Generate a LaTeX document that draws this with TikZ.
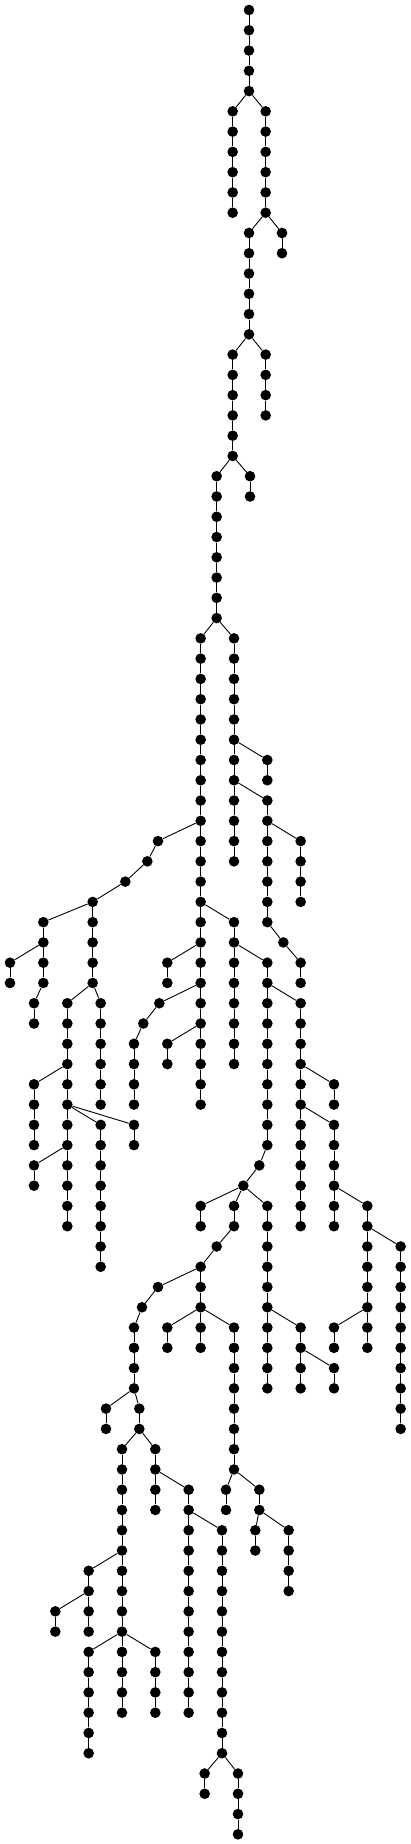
\documentclass[tikz,border=0pt]{standalone}
\begin{document}
\tikzset{
  dot/.style={circle,fill=black,draw=none,inner sep=0pt,minimum size=10.6pt},
  edge/.style={line width=0.9pt,black}
}
\newcommand\chain[5]{%
  \foreach \l in {#3,...,#4}{\node[dot] (#1-\l) at (#2,\l) {};}%
  \ifnum#4>#3\relax
    \pgfmathtruncatemacro\chainstart{#3+1}%
    \foreach \l [remember=\l as \p (initially #3)] in {\chainstart,...,#4}{\draw[edge] (#1-\p) -- (#1-\l);}%
  \fi
  \draw[edge] (#5) -- (#1-#3);%
}
\begin{tikzpicture}[x=0.33333pt,y=-20.27pt]
\useasboundingbox (0pt,10pt) rectangle (411pt,-1834pt);
\foreach \l in {0,...,4}{\node[dot] (A-\l) at (747,\l) {};}
\foreach \l [remember=\l as \p (initially 0)] in {1,...,4}{\draw[edge] (A-\p) -- (A-\l);}
\chain{B}{698}{5}{10}{A-4}
\chain{C}{797}{5}{10}{A-4}
\chain{D}{846}{11}{12}{C-10}
\chain{E}{747}{11}{16}{C-10}
\chain{F}{797}{17}{20}{E-16}
\chain{G}{698}{17}{22}{E-16}
\chain{H}{750}{23}{24}{G-22}
\chain{I}{650}{23}{30}{G-22}
\chain{J}{602}{31}{54}{I-30}
\chain{K}{702}{31}{42}{I-30}
\chain{Ka}{802}{37}{38}{K-36}
\chain{Kb}{802}{39}{45}{K-38}
\chain{Kc}{902}{41}{44}{Kb-40}
\chain{Kd}{850}{46}{46}{Kb-45}
\chain{Ke}{902}{47}{48}{Kd-46}
\chain{Pa}{474}{41}{41}{J-40}
\chain{Pb}{442}{42}{42}{Pa-41}
\chain{Pc}{376}{43}{43}{Pb-42}
\chain{Pd}{278}{44}{48}{Pc-43}
\chain{Qa}{130}{45}{48}{Pd-44}
\chain{Qb}{30}{47}{48}{Qa-46}
\chain{Qc}{102}{49}{50}{Qa-48}
\chain{Ra}{202}{49}{60}{Pd-48}
\chain{Sa}{302}{49}{54}{Pd-48}
\chain{Rb}{102}{53}{56}{Ra-52}
\chain{Sb}{302}{55}{62}{Ra-54}
\chain{Tb}{402}{55}{56}{Ra-54}
\chain{Rc}{102}{57}{58}{Ra-56}
\chain{M}{702}{45}{52}{J-44}
\chain{N}{802}{47}{56}{M-46}
\chain{O}{902}{49}{60}{N-48}
\chain{Oa}{1002}{53}{54}{O-52}
\chain{Ob}{1002}{55}{60}{O-54}
\chain{Oc}{1102}{59}{66}{Ob-58}
\chain{Od}{1202}{61}{70}{Oc-60}
\chain{Oe}{1002}{65}{66}{Oc-64}
\chain{Na}{778}{57}{57}{N-56}
\chain{Nb}{730}{58}{58}{Na-57}
\chain{Nc}{602}{59}{60}{Nb-58}
\chain{Nd}{702}{59}{60}{Nb-58}
\chain{Ne}{802}{59}{68}{Nb-58}
\chain{Nf}{902}{65}{68}{Ne-64}
\chain{Ng}{1002}{67}{68}{Nf-66}
\chain{Ua}{650}{61}{61}{Nd-60}
\chain{Ub}{602}{62}{64}{Ua-61}
\chain{Va}{474}{63}{63}{Ub-62}
\chain{Vb}{426}{64}{64}{Va-63}
\chain{Vc}{402}{65}{68}{Vb-64}
\chain{Vd}{318}{69}{70}{Vc-68}
\chain{Ve}{418}{69}{70}{Vc-68}
\chain{Wa}{366}{71}{84}{Ve-70}
\chain{Wb}{466}{71}{74}{Ve-70}
\chain{Xa}{266}{77}{80}{Wa-76}
\chain{Xb}{166}{79}{80}{Xa-78}
\chain{Xc}{266}{81}{86}{Wa-80}
\chain{Xd}{466}{81}{84}{Wa-80}
\chain{Ya}{566}{73}{84}{Wb-72}
\chain{Yb}{666}{75}{86}{Ya-74}
\chain{Yc}{614}{87}{88}{Yb-86}
\chain{Yd}{714}{87}{90}{Yb-86}
\chain{Za}{502}{65}{66}{Ub-64}
\chain{Zb}{602}{65}{66}{Ub-64}
\chain{Zc}{702}{65}{72}{Ub-64}
\chain{Zd}{678}{73}{74}{Zc-72}
\chain{Ze}{778}{73}{74}{Zc-72}
\chain{Zf}{766}{75}{76}{Ze-74}
\chain{Zg}{866}{75}{78}{Ze-74}
\chain{Ja}{502}{47}{48}{J-46}
\chain{Jb}{478}{49}{49}{J-48}
\chain{Jc}{430}{50}{50}{Jb-49}
\chain{Jd}{402}{51}{54}{Jc-50}
\chain{Je}{502}{51}{52}{J-50}
\end{tikzpicture}
\end{document}
